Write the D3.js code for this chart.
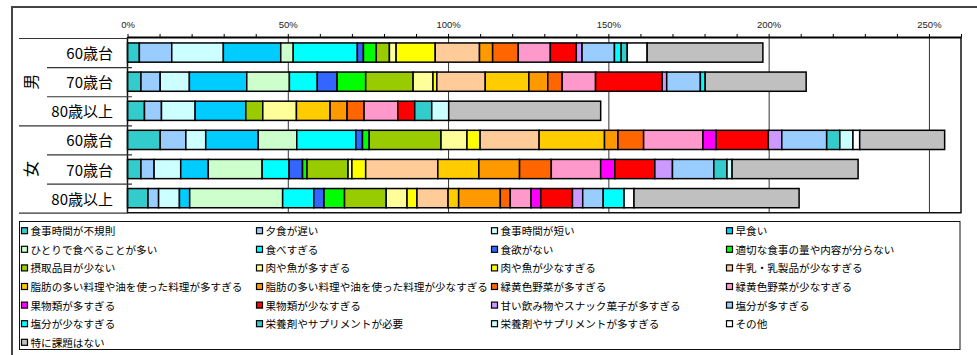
<!DOCTYPE html>
<html>
<head>
<meta charset="utf-8">
<script src="https://cdn.jsdelivr.net/npm/d3@7"></script>
<style>
  body { margin: 0; background: #fff; }
  svg { display: block; font-family: "Noto Sans CJK JP", "Noto Sans", sans-serif; }
</style>
</head>
<body>
<svg id="chart" width="977" height="355"></svg>
<script>
// 性・年代別 食生活の課題（複数回答、%）
const groups = ['男', '女']
const ageLabels = ['60歳台', '70歳台', '80歳以上']
const rowIds = ['m60', 'm70', 'm80', 'f60', 'f70', 'f80']

const seriesNames = [
  '食事時間が不規則', '夕食が遅い', '食事時間が短い', '早食い',
  'ひとりで食べることが多い', '食べすぎる', '食欲がない', '適切な食事の量や内容が分らない',
  '摂取品目が少ない', '肉や魚が多すぎる', '肉や魚が少なすぎる', '牛乳・乳製品が少なすぎる',
  '脂肪の多い料理や油を使った料理が多すぎる', '脂肪の多い料理や油を使った料理が少なすぎる', '緑黄色野菜が多すぎる', '緑黄色野菜が少なすぎる',
  '果物類が多すぎる', '果物類が少なすぎる', '甘い飲み物やスナック菓子が多すぎる', '塩分が多すぎる',
  '塩分が少なすぎる', '栄養剤やサプリメントが必要', '栄養剤やサプリメントが多すぎる', 'その他',
  '特に課題はない'
]
const seriesColors = [
  '#33CCCC', '#99CCFF', '#CCFFFF', '#00CCFF',
  '#CCFFCC', '#00FFFF', '#3366FF', '#00FF00',
  '#99CC00', '#FFFF99', '#FFFF00', '#FFCC99',
  '#FFCC00', '#FF9900', '#FF6600', '#FF99CC',
  '#FF00FF', '#FF0000', '#CC99FF', '#99CCFF',
  '#00FFFF', '#33CCCC', '#CCFFFF', '#FFFFFF',
  '#C0C0C0'
]

// 各行の値（seriesNames の順）
const male60 = [3.7, 10.1, 16.1, 17.9, 3.9, 20.0, 1.9, 4.0, 4.1, 2.1, 12.2, 13.8, 0, 4.1, 8.0, 10.0, 0, 8.1, 1.8, 10.1, 2.1, 1.9, 0, 6.2, 36.1]
const male70 = [4.2, 6.0, 9.1, 17.9, 13.3, 8.7, 6.2, 8.9, 14.8, 6.2, 1.2, 15.1, 13.6, 5.9, 4.5, 10.4, 0, 20.8, 1.4, 10.5, 1.5, 0, 0, 0, 31.5]
const male80 = [5.3, 5.3, 10.5, 15.8, 0, 0, 0, 0, 5.3, 10.5, 0, 0, 10.5, 5.3, 5.3, 10.5, 0, 5.3, 0, 0, 0, 5.3, 5.3, 0, 47.4]
const female60 = [10.2, 8.0, 6.2, 16.4, 12.0, 18.4, 2.1, 2.1, 22.4, 8.1, 4.1, 18.4, 20.4, 4.2, 8.0, 18.5, 4.1, 16.3, 4.2, 14.0, 0, 4.1, 4.1, 2.1, 26.5]
const female70 = [4.2, 4.1, 8.3, 8.6, 16.8, 8.4, 4.2, 1.4, 12.8, 1.2, 4.3, 22.5, 12.8, 12.7, 9.9, 15.4, 4.4, 12.5, 5.5, 12.9, 0, 4.1, 1.6, 0, 39.3]
const female80 = [6.4, 3.3, 6.5, 3.2, 29.0, 9.7, 3.2, 6.4, 13.0, 6.5, 3.1, 9.7, 3.3, 13.0, 3.1, 6.5, 3.0, 9.9, 3.2, 6.4, 6.5, 0, 0, 3.1, 51.5]

const xTicks = [0, 50, 100, 150, 200, 250]

const rowValues = [male60, male70, male80, female60, female70, female80]
const table = rowIds.map((id, i) => {
  const row = { id }
  seriesNames.forEach((name, j) => { row[name] = rowValues[i][j] })
  return row
})

const svg = d3.select('#chart')

// 外枠
svg.append('path')
  .attr('d', 'M12,360 V7 H980')
  .attr('fill', 'none')
  .attr('stroke', '#444')
  .attr('stroke-width', 2)

const x = d3.scaleLinear().domain([0, 260]).range([127.5, 961])
const y = d3.scaleBand().domain(rowIds).range([38, 212.7]).paddingInner(0.34).paddingOuter(0.17)
const color = d3.scaleOrdinal().domain(seriesNames).range(seriesColors)

const plotTop = 37
const plotBottom = 212.7

// 目盛線
svg.append('g')
  .selectAll('line')
  .data(xTicks.slice(1))
  .join('line')
  .attr('x1', d => x(d) + 0.5).attr('x2', d => x(d) + 0.5)
  .attr('y1', plotTop).attr('y2', plotBottom)
  .attr('stroke', '#333')
  .attr('stroke-width', 1)

// 積み上げ棒
const stacked = d3.stack().keys(seriesNames)(table)
svg.append('g')
  .selectAll('g')
  .data(stacked)
  .join('g')
  .attr('fill', d => color(d.key))
  .selectAll('rect')
  .data(d => d.filter(s => s[1] - s[0] > 0))
  .join('rect')
  .attr('x', d => x(d[0]))
  .attr('y', d => y(d.data.id))
  .attr('width', d => x(d[1]) - x(d[0]))
  .attr('height', y.bandwidth())
  .attr('stroke', '#000')
  .attr('stroke-width', 1.5)

// プロット枠
svg.append('path')
  .attr('d', `M${x(0)},${plotTop} V${plotBottom} H${x(260)} V${plotTop}`)
  .attr('fill', 'none')
  .attr('stroke', '#111')
  .attr('stroke-width', 1.5)

// 上側の軸
const axis = svg.append('g')
  .attr('transform', `translate(0,${plotTop})`)
  .call(d3.axisTop(x)
    .tickValues(d3.range(0, 261, 10))
    .tickFormat(d => (d % 50 === 0 ? d + '%' : ''))
    .tickSize(3)
    .tickSizeOuter(0)
    .tickPadding(6))
axis.select('.domain').attr('stroke', '#000').attr('stroke-width', 2)
axis.selectAll('.tick line').attr('stroke', '#000')
axis.selectAll('.tick text')
  .attr('font-size', 9.5)
  .attr('fill', '#222')
  .attr('font-family', '"Liberation Sans", Arial, sans-serif')

// 年代ラベル
const labelG = svg.append('g')
labelG.selectAll('text')
  .data(rowIds)
  .join('text')
  .attr('x', 113)
  .attr('y', d => y(d) + y.bandwidth() / 2)
  .attr('text-anchor', 'end')
  .attr('dominant-baseline', 'central')
  .attr('font-size', 15)
  .attr('fill', '#000')
  .text((d, i) => ageLabels[i % 3])

// 区切り線
const step = y.step()
const sepY = d3.range(7).map(i => 38 + i * step)
svg.append('g')
  .selectAll('line')
  .data(sepY)
  .join('line')
  .attr('x1', (d, i) => (i % 3 === 0 ? 19 : 47))
  .attr('x2', (d, i) => (i === 0 || i === 6 ? x(0) : 132))
  .attr('y1', d => d + 0.5).attr('y2', d => d + 0.5)
  .attr('stroke', '#333')
  .attr('stroke-width', 1.2)

// 性別ラベル（縦書き）
svg.append('g')
  .selectAll('text')
  .data(groups)
  .join('text')
  .attr('transform', (d, i) => `translate(30,${38 + step * (1.5 + i * 3)}) rotate(-90)`)
  .attr('text-anchor', 'middle')
  .attr('dominant-baseline', 'central')
  .attr('font-size', 16)
  .attr('fill', '#000')
  .text(d => d)

// 凡例
svg.append('rect')
  .attr('x', 19.5).attr('y', 221.5)
  .attr('width', 940.5).attr('height', 128)
  .attr('fill', '#fff')
  .attr('stroke', '#111')
  .attr('stroke-width', 1)

const legend = svg.append('g')
  .selectAll('g')
  .data(seriesNames)
  .join('g')
  .attr('transform', (d, i) => `translate(${21 + (i % 4) * 235},${230.7 + Math.floor(i / 4) * 18.6})`)
legend.append('rect')
  .attr('x', 0.5).attr('y', -3)
  .attr('width', 6).attr('height', 6)
  .attr('fill', d => color(d))
  .attr('stroke', '#000')
  .attr('stroke-width', 1.2)
legend.append('text')
  .attr('x', 9.5)
  .attr('y', 0)
  .attr('dominant-baseline', 'central')
  .attr('font-size', 10.6)
  .attr('fill', '#000')
  .text(d => d)
</script>
</body>
</html>
